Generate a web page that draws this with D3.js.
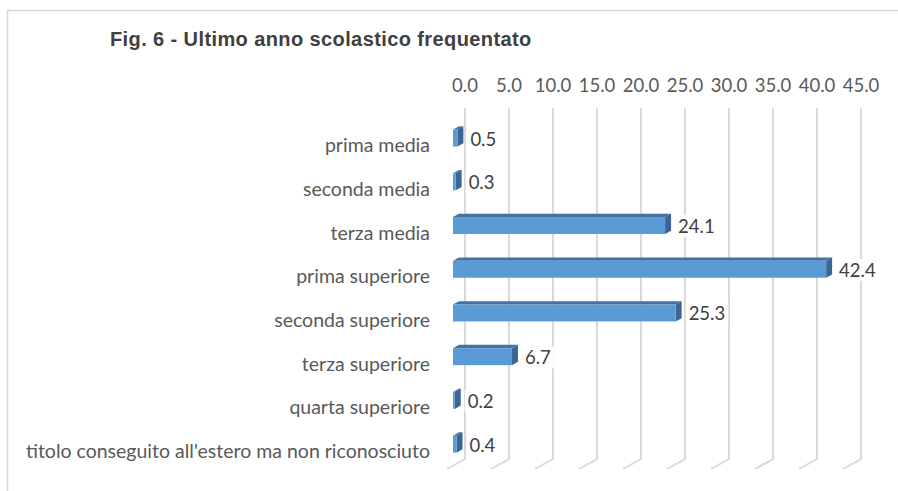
<!DOCTYPE html>
<html>
<head>
<meta charset="utf-8">
<script src="https://cdn.jsdelivr.net/npm/d3@7"></script>
<style>
  body { margin: 0; background: #fff; }
  svg { display: block; }
</style>
</head>
<body>
<div id="chart"></div>
<script>
// data
const categories = [
  "prima media",
  "seconda media",
  "terza media",
  "prima superiore",
  "seconda superiore",
  "terza superiore",
  "quarta superiore",
  "titolo conseguito all'estero ma non riconosciuto"
];
const values = [0.5, 0.3, 24.1, 42.4, 25.3, 6.7, 0.2, 0.4];
const ticks = [0, 5, 10, 15, 20, 25, 30, 35, 40, 45];
const title = "Fig. 6 - Ultimo anno scolastico frequentato";

const width = 898, height = 491;
const depth = { dx: -18, dy: 10 };   // floor depth vector (back -> front)
const wallTop = 108, wallBottom = 459;

const svg = d3.select("#chart").append("svg")
  .attr("width", width)
  .attr("height", height);

// outer frame (cropped on right/bottom)
svg.append("rect")
  .attr("x", 7.5).attr("y", 10.5)
  .attr("width", width + 10).attr("height", height + 10)
  .attr("fill", "none")
  .attr("stroke", "#d9d9d9")
  .attr("stroke-width", 1.5);

svg.append("text")
  .attr("x", 110).attr("y", 46)
  .attr("font-family", "Liberation Sans, Arial, sans-serif")
  .attr("font-weight", "bold")
  .attr("font-size", 20)
  .attr("letter-spacing", 0.4)
  .attr("fill", "#404040")
  .text(title);

const x = d3.scaleLinear().domain([0, 45]).range([465, 861]);
const y = d3.scaleBand().domain(categories).range([119.2, 469]);
const mid = d => y(d) + y.bandwidth() / 2;

// back wall gridlines + floor diagonals
const grid = svg.append("g")
  .attr("stroke", "#d9d9d9")
  .attr("stroke-width", 2)
  .attr("fill", "none");
grid.selectAll("path")
  .data(ticks)
  .join("path")
  .attr("d", d => `M${x(d)},${wallTop}V${wallBottom}l${depth.dx},${depth.dy}`);

// tick labels
svg.append("g")
  .selectAll("text")
  .data(ticks)
  .join("text")
  .attr("x", d => x(d))
  .attr("y", 92)
  .attr("text-anchor", "middle")
  .attr("font-family", "Lato, sans-serif")
  .attr("font-size", 18.5)
  .attr("fill", "#595959")
  .text(d => d3.format(".1f")(d));

// category labels
svg.append("g")
  .selectAll("text")
  .data(categories)
  .join("text")
  .attr("x", 430)
  .attr("y", d => mid(d) + 11)
  .attr("text-anchor", "end")
  .attr("font-family", "Lato, sans-serif")
  .attr("font-size", 19.5)
  .attr("fill", "#595959")
  .text(d => d);

// 3D bars: bar sits between 1/3 and 2/3 of the floor depth
const barH = 17;
const fx = depth.dx * 2 / 3, fy = depth.dy * 2 / 3;   // front face offset
const ox = -depth.dx / 3, oy = -depth.dy / 3;         // front -> back of bar
const bars = svg.append("g")
  .selectAll("g")
  .data(categories.map((c, i) => ({ cat: c, val: values[i] })))
  .join("g");

bars.each(function(d) {
  const g = d3.select(this);
  const x0 = x(0) + fx;
  const x1 = x(d.val) + fx;
  const yc = mid(d.cat) - 3;
  const y0 = yc - barH / 2, y1 = yc + barH / 2;

  // top face
  g.append("path")
    .attr("d", `M${x0},${y0}L${x0 + ox},${y0 + oy}L${x1 + ox},${y0 + oy}L${x1},${y0}Z`)
    .attr("fill", "#4472a4");
  // right side face
  g.append("path")
    .attr("d", `M${x1},${y0}L${x1 + ox},${y0 + oy}L${x1 + ox},${y1 + oy}L${x1},${y1}Z`)
    .attr("fill", "#3b6592");
  // front face
  g.append("rect")
    .attr("x", x0).attr("y", y0)
    .attr("width", x1 - x0).attr("height", barH)
    .attr("fill", "#5b9bd5");

  // value label with white box
  const lab = g.append("text")
    .attr("x", x1 + ox + 7)
    .attr("y", mid(d.cat) + 4.5)
    .attr("font-family", "Lato, sans-serif")
    .attr("font-size", 18.5)
    .attr("fill", "#404040")
    .text(d3.format(".1f")(d.val));
  const bb = lab.node().getBBox();
  g.insert("rect", "text")
    .attr("x", bb.x - 3).attr("y", bb.y)
    .attr("width", bb.width + 6).attr("height", bb.height)
    .attr("fill", "#fff");
});
</script>
</body>
</html>
